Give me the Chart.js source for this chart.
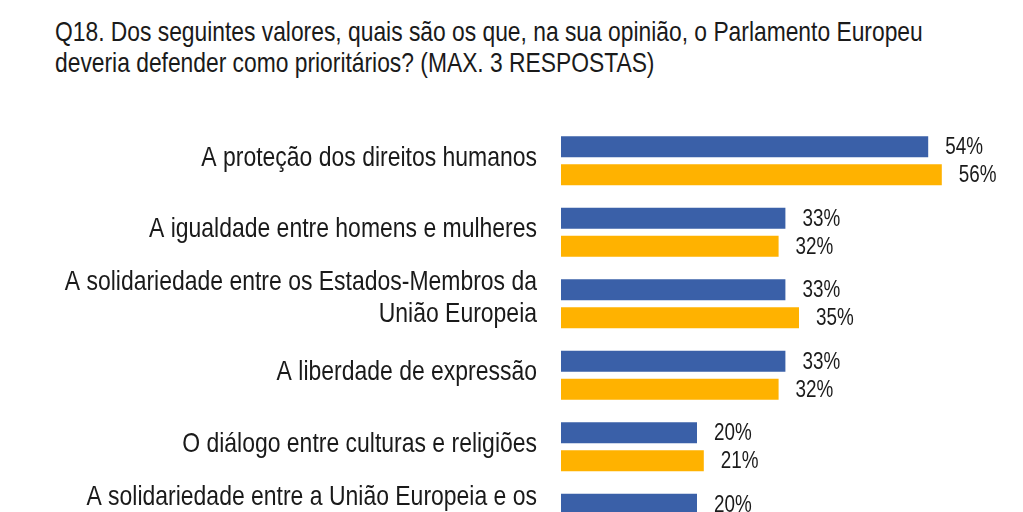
<!DOCTYPE html>
<html>
<head>
<meta charset="utf-8">
<script src="https://cdn.jsdelivr.net/npm/chart.js@4/dist/chart.umd.min.js"></script>
<style>
  html, body { margin: 0; padding: 0; background: #ffffff; overflow: hidden; width: 1023px; height: 512px; }
  #title { position: absolute; left: 55px; top: 16px; font-family: "Liberation Sans", Arial, sans-serif; font-size: 28px; line-height: 31.4px; color: #1a1a1a; white-space: nowrap; transform: scaleX(0.815); transform-origin: 0 0; }
  #wrap { position: absolute; left: 0; top: 0; }
</style>
</head>
<body>
<div id="title">Q18. Dos seguintes valores, quais são os que, na sua opinião, o Parlamento Europeu<br>deveria defender como prioritários? (MAX. 3 RESPOSTAS)</div>
<div id="wrap"><canvas id="c" width="1023" height="594"></canvas></div>
<script>
const categories = [
  "A proteção dos direitos humanos",
  "A igualdade entre homens e mulheres",
  ["A solidariedade entre os Estados-Membros da", "União Europeia"],
  "A liberdade de expressão",
  "O diálogo entre culturas e religiões",
  ["A solidariedade entre a União Europeia e os", ""]
];
const seriesBlue = [54, 33, 33, 33, 20, 20];
const seriesYellow = [56, 32, 35, 32, 21, null];

const FONT = '"Liberation Sans", Arial, sans-serif';

// Condensed category labels, placed at the y scale's tick positions
const categoryLabels = {
  id: 'categoryLabels',
  afterDraw(chart) {
    const ctx = chart.ctx;
    const y = chart.scales.y;
    ctx.save();
    ctx.font = '27.5px ' + FONT;
    ctx.fillStyle = '#1a1a1a';
    ctx.textAlign = 'right';
    ctx.textBaseline = 'alphabetic';
    const xRight = y.right - 24;
    chart.data.labels.forEach((lab, i) => {
      const lines = Array.isArray(lab) ? lab : [lab];
      const cy = y.getPixelForTick(i);
      const n = lines.length;
      const off = n > 1 ? 2.5 : 5;
      lines.forEach((line, k) => {
        const by = cy + off + (k - (n - 1) / 2) * 31.7;
        ctx.save();
        ctx.translate(xRight, by);
        ctx.scale(0.835, 1);
        ctx.fillText(line, 0, 0);
        ctx.restore();
      });
    });
    ctx.restore();
  }
};

const valueLabels = {
  id: 'valueLabels',
  afterDatasetsDraw(chart) {
    const ctx = chart.ctx;
    ctx.save();
    ctx.font = '23px ' + FONT;
    ctx.fillStyle = '#1a1a1a';
    ctx.textAlign = 'left';
    ctx.textBaseline = 'alphabetic';
    chart.data.datasets.forEach((ds, i) => {
      const meta = chart.getDatasetMeta(i);
      meta.data.forEach((bar, j) => {
        const v = ds.data[j];
        if (v === null || v === undefined) return;
        ctx.save();
        ctx.translate(bar.x + 17, bar.y + 7.5);
        ctx.scale(0.82, 1);
        ctx.fillText(v + '%', 0, 0);
        ctx.restore();
      });
    });
    ctx.restore();
  }
};

new Chart(document.getElementById('c'), {
  type: 'bar',
  data: {
    labels: categories,
    datasets: [
      { data: seriesBlue, backgroundColor: '#3A60A8', categoryPercentage: 0.783, barPercentage: 0.75 },
      { data: seriesYellow, backgroundColor: '#FFB200', categoryPercentage: 0.783, barPercentage: 0.75 }
    ]
  },
  options: {
    indexAxis: 'y',
    responsive: false,
    devicePixelRatio: 1,
    animation: false,
    layout: { padding: { top: 125, right: 20, bottom: 40, left: 0 } },
    plugins: { legend: { display: false }, tooltip: { enabled: false }, title: { display: false } },
    scales: {
      x: { display: false, min: 0, max: 65 },
      y: {
        grid: { display: false, drawTicks: false },
        border: { display: false },
        ticks: { display: false },
        afterFit(scale) { scale.width = 561; }
      }
    }
  },
  plugins: [valueLabels, categoryLabels]
});
</script>
</body>
</html>
